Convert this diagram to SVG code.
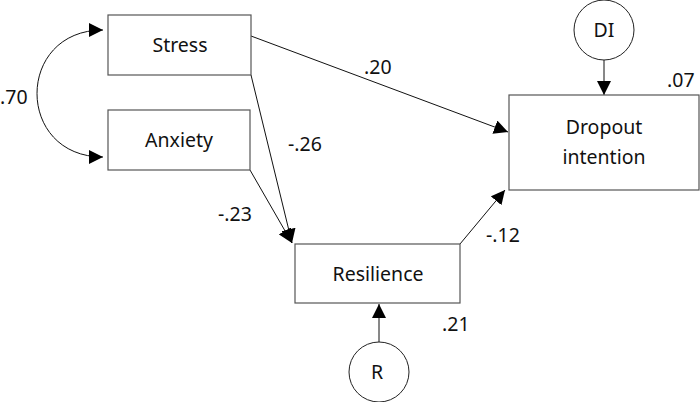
<svg xmlns="http://www.w3.org/2000/svg" width="700" height="402" viewBox="0 0 700 402">
<style>
.box{fill:#fff;stroke:#555;stroke-width:1.2}
.circ{fill:#fff;stroke:#222;stroke-width:1}
.ln{fill:none;stroke:#111;stroke-width:1}
text{font-family:"Noto Sans","Open Sans",sans-serif;font-size:19.5px;fill:#111}
.c{text-anchor:middle}
</style>
<defs>
<marker id="ah" viewBox="0 0 10 10" refX="10" refY="5" markerWidth="14" markerHeight="14" markerUnits="userSpaceOnUse" orient="auto-start-reverse">
<path d="M0,0 L10,5 L0,10 Z" fill="#000"/>
</marker>
</defs>
<g id="connectors">
<path class="ln" d="M103,30 C15,30 15,157 103,157" marker-start="url(#ah)" marker-end="url(#ah)"/>
<line class="ln" x1="251" y1="36" x2="508" y2="132" marker-end="url(#ah)"/>
<line class="ln" x1="251" y1="75" x2="292" y2="243" marker-end="url(#ah)"/>
<line class="ln" x1="250" y1="170" x2="292" y2="243" marker-end="url(#ah)"/>
<line class="ln" x1="460" y1="244" x2="505" y2="190" marker-end="url(#ah)"/>
<line class="ln" x1="379" y1="342" x2="379" y2="304" marker-end="url(#ah)"/>
<line class="ln" x1="604" y1="60" x2="604" y2="95" marker-end="url(#ah)"/>
</g>
<g id="stress"><rect class="box" x="108" y="15" width="143" height="60"/><text class="c" x="180" y="52">Stress</text></g>
<g id="anxiety"><rect class="box" x="108" y="110" width="142" height="60"/><text class="c" x="179" y="147">Anxiety</text></g>
<g id="resilience"><rect class="box" x="295" y="244" width="165" height="59"/><text class="c" x="378" y="281">Resilience</text></g>
<g id="dropout"><rect class="box" x="509" y="95" width="190" height="95"/><text class="c" x="604" y="134">Dropout</text><text class="c" x="604" y="164">intention</text></g>
<g id="r"><circle class="circ" cx="379" cy="372" r="30"/><text class="c" x="377" y="379">R</text></g>
<g id="di"><circle class="circ" cx="604" cy="30" r="30"/><text class="c" x="604" y="37">DI</text></g>
<g id="labels">
<text x="0" y="104">.70</text>
<text x="364" y="74">.20</text>
<text x="288" y="151">-.26</text>
<text x="218" y="221">-.23</text>
<text x="486" y="242">-.12</text>
<text x="442" y="331">.21</text>
<text x="667" y="87">.07</text>
</g>
</svg>
